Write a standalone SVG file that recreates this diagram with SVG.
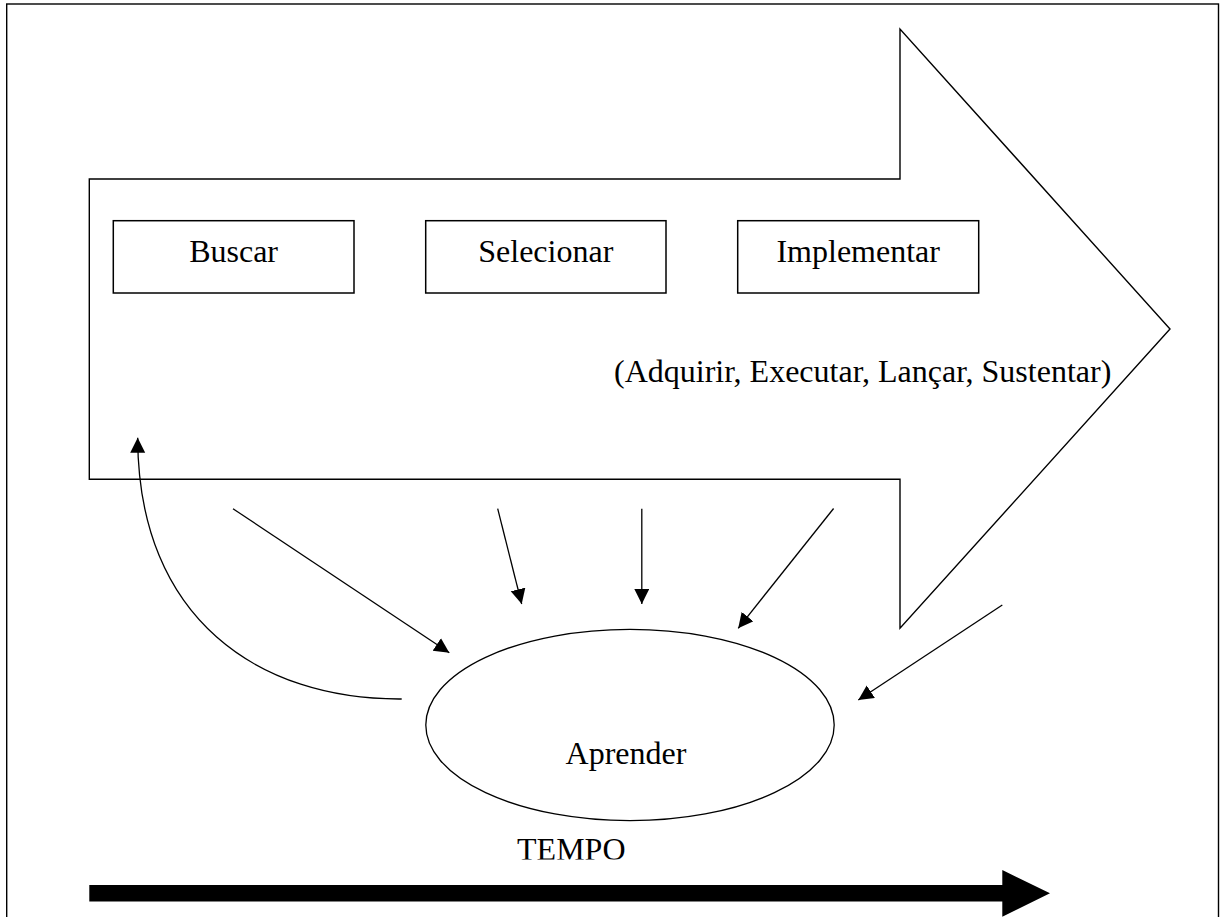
<svg xmlns="http://www.w3.org/2000/svg" width="1221" height="917" viewBox="0 0 1221 917">
<style>
.ln{fill:none;stroke:#000;stroke-width:1.4}
.box{fill:#fff;stroke:#000;stroke-width:1.5}
.t{font-family:"Liberation Serif","Times New Roman",serif;font-size:32px;fill:#000}
.c{fill:none;stroke:#000;stroke-width:1.3}
</style>
<defs>
<marker id="ah" markerUnits="userSpaceOnUse" markerWidth="16" markerHeight="16" refX="15" refY="7.5" orient="auto">
<path d="M0,0 L15,7.5 L0,15 Z" fill="#000"/>
</marker>
<clipPath id="tc"><rect x="0" y="820" width="1221" height="39.5"/></clipPath>
</defs>
<rect width="1221" height="917" fill="#fff"/>
<rect id="frame" class="ln" x="6.7" y="4" width="1211.8" height="930" stroke-width="1.6"/>
<g id="bigArrow">
<polygon class="ln" points="89.3,179 900,179 900,29 1170,329 900,628.3 900,479.3 89.3,479.3"/>
</g>
<g id="buscar">
<rect class="box" x="113.3" y="220.7" width="240.7" height="72.3"/>
<text class="t" x="233.6" y="262" text-anchor="middle">Buscar</text>
</g>
<g id="selecionar">
<rect class="box" x="425.7" y="220.7" width="240.3" height="72.3"/>
<text class="t" x="545.8" y="262" text-anchor="middle">Selecionar</text>
</g>
<g id="implementar">
<rect class="box" x="737.7" y="220.7" width="241" height="72.3"/>
<text class="t" x="858.2" y="262" text-anchor="middle">Implementar</text>
</g>
<g id="subtitle">
<text class="t" x="614" y="382">(Adquirir, Executar, Lançar, Sustentar)</text>
</g>
<g id="aprender">
<ellipse class="c" cx="630" cy="725" rx="204.2" ry="95.7"/>
<text class="t" x="626" y="764" text-anchor="middle">Aprender</text>
</g>
<g id="connectors">
<path class="c" d="M401.7,699 C260,700 138,620 137.7,437.7" marker-end="url(#ah)"/>
<line class="c" x1="233" y1="508.7" x2="449.3" y2="652.7" marker-end="url(#ah)"/>
<line class="c" x1="497.7" y1="508.7" x2="521.7" y2="604" marker-end="url(#ah)"/>
<line class="c" x1="641.8" y1="508.7" x2="641.8" y2="604" marker-end="url(#ah)"/>
<line class="c" x1="833.6" y1="508.5" x2="738.2" y2="628.3" marker-end="url(#ah)"/>
<line class="c" x1="1002.3" y1="605" x2="858.3" y2="700" marker-end="url(#ah)"/>
</g>
<g id="tempo">
<text class="t" x="571.3" y="860" text-anchor="middle" clip-path="url(#tc)">TEMPO</text>
<polygon points="89.3,885 1002.3,885 1002.3,870 1050,893.3 1002.3,916.7 1002.3,901.5 89.3,901.5" fill="#000"/>
</g>
</svg>
